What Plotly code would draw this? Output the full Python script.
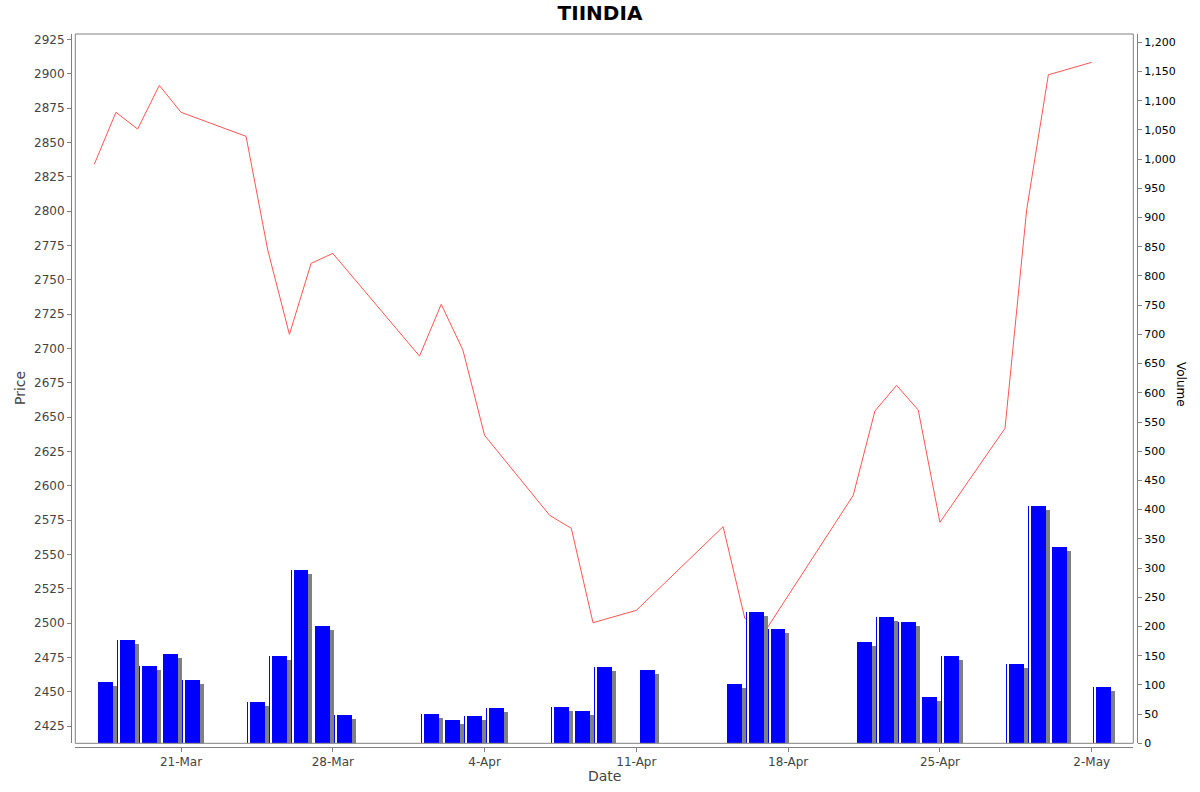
import plotly.graph_objects as go

# trading days (TIINDIA, Mar-May 2025)
dates = ['2025-03-17', '2025-03-18', '2025-03-19', '2025-03-20', '2025-03-21',
         '2025-03-24', '2025-03-25', '2025-03-26', '2025-03-27', '2025-03-28',
         '2025-04-01', '2025-04-02', '2025-04-03', '2025-04-04',
         '2025-04-07', '2025-04-08', '2025-04-09', '2025-04-11',
         '2025-04-15', '2025-04-16', '2025-04-17',
         '2025-04-21', '2025-04-22', '2025-04-23', '2025-04-24', '2025-04-25',
         '2025-04-28', '2025-04-29', '2025-04-30', '2025-05-02']

close_price = [2834.0, 2871.9, 2859.7, 2891.5, 2871.9,
               2854.4, 2771.6, 2710.2, 2761.9, 2769.2,
               2694.4, 2732.1, 2698.8, 2636.7,
               2578.5, 2569.0, 2500.3, 2509.3,
               2570.2, 2503.5, 2495.7,
               2593.0, 2654.4, 2673.1, 2655.1, 2573.4,
               2641.8, 2801.0, 2899.2, 2908.3]

volume = [105, 176, 132, 153, 108,
          71, 149, 297, 201, 48,
          51, 40, 47, 60,
          63, 55, 131, 125,
          102, 225, 195,
          173, 216, 208, 79, 149,
          136, 406, 336, 96]

tick_dates = ['2025-03-21', '2025-03-28', '2025-04-04', '2025-04-11',
              '2025-04-18', '2025-04-25', '2025-05-02']
tick_text = ['21-Mar', '28-Mar', '4-Apr', '11-Apr', '18-Apr', '25-Apr', '2-May']

FONT = 'DejaVu Sans'
PX = 86400000 / 21.68  # ms per pixel on the date axis
BAR_OFF = 1.7 * PX
BAR_W = 17.6 * PX

fig = go.Figure()

# bar shadow
fig.add_trace(go.Bar(x=dates, y=volume, base=-6.85, yaxis='y2',
                     offset=BAR_OFF + 4 * PX, width=BAR_W,
                     marker=dict(color='#808080', line=dict(width=0)),
                     showlegend=False, hoverinfo='skip'))

# volume bars
fig.add_trace(go.Bar(x=dates, y=volume, yaxis='y2', name='Volume',
                     offset=BAR_OFF, width=BAR_W,
                     marker=dict(color='#0000ff', line=dict(width=0)),
                     showlegend=False))

# light top edge + white highlight stripe near left edge of each bar
fig.add_trace(go.Bar(x=dates, y=volume, yaxis='y2',
                     offset=BAR_OFF + 1.2 * PX, width=1.0 * PX,
                     marker=dict(color='#ffffff', line=dict(width=0)),
                     showlegend=False, hoverinfo='skip'))

# price line
fig.add_trace(go.Scatter(x=dates, y=close_price, mode='lines', name='Price',
                         line=dict(color='#ff5555', width=1),
                         showlegend=False))

axis_font = dict(family=FONT, size=12, color='#444444')
label_font = dict(family=FONT, size=14, color='#444444')

fig.update_layout(
    width=1200, height=792,
    margin=dict(l=71, r=63, t=34, b=45),
    paper_bgcolor='white', plot_bgcolor='white',
    barmode='overlay', bargap=0,
    font=dict(family=FONT),
    title=dict(text='<b>TIINDIA</b>', x=0.5, xref='container', xanchor='center',
               y=1 - 13 / 792, yref='container', yanchor='middle',
               font=dict(family=FONT, size=20, color='black')),
    xaxis=dict(type='date', domain=[4.3 / 1066, 1062.3 / 1066],
               range=['2025-03-16 03:00', '2025-05-03 22:00'],
               anchor='free', position=0, automargin=False,
               tickvals=tick_dates, ticktext=tick_text,
               ticks='outside', ticklen=4, tickcolor='#808080',
               showline=True, linecolor='#808080', linewidth=1,
               showgrid=False, zeroline=False, tickfont=axis_font),
    yaxis=dict(domain=[3.7 / 713, 1], range=[2412.5, 2928.9],
               anchor='free', position=0, automargin=False,
               tick0=2425, dtick=25,
               ticks='outside', ticklen=4, tickcolor='#808080',
               showline=True, linecolor='#808080', linewidth=1,
               showgrid=False, zeroline=False, tickfont=axis_font),
    yaxis2=dict(overlaying='y', side='right', anchor='free', position=1,
                automargin=False,
                range=[0, 1214.2], tick0=0, dtick=50, tickformat=',',
                ticks='outside', ticklen=4, tickcolor='#808080',
                showline=True, linecolor='#808080', linewidth=1,
                showgrid=False, zeroline=False,
                tickfont=dict(family=FONT, size=11, color='black')),
    shapes=[dict(type='rect', xref='x domain', yref='y domain',
                 x0=0, x1=1, y0=0, y1=1,
                 line=dict(color='#808080', width=1), layer='above')],
    annotations=[
        dict(text='Date', xref='paper', yref='paper',
             x=(604 - 71) / 1066, y=(747 - 776) / 713,
             xanchor='center', yanchor='middle', showarrow=False,
             font=label_font),
        dict(text='Price', xref='paper', yref='paper',
             x=(20 - 71) / 1066, y=(747 - 388) / 713, textangle=-90,
             xanchor='center', yanchor='middle', showarrow=False,
             font=label_font),
        dict(text='Volume', xref='paper', yref='paper',
             x=(1181 - 71) / 1066, y=(747 - 384) / 713, textangle=90,
             xanchor='center', yanchor='middle', showarrow=False,
             font=dict(family=FONT, size=12, color='black')),
    ],
)

fig.write_html('out.html', config={'displayModeBar': False},
               post_script="document.body.style.margin='0';")
